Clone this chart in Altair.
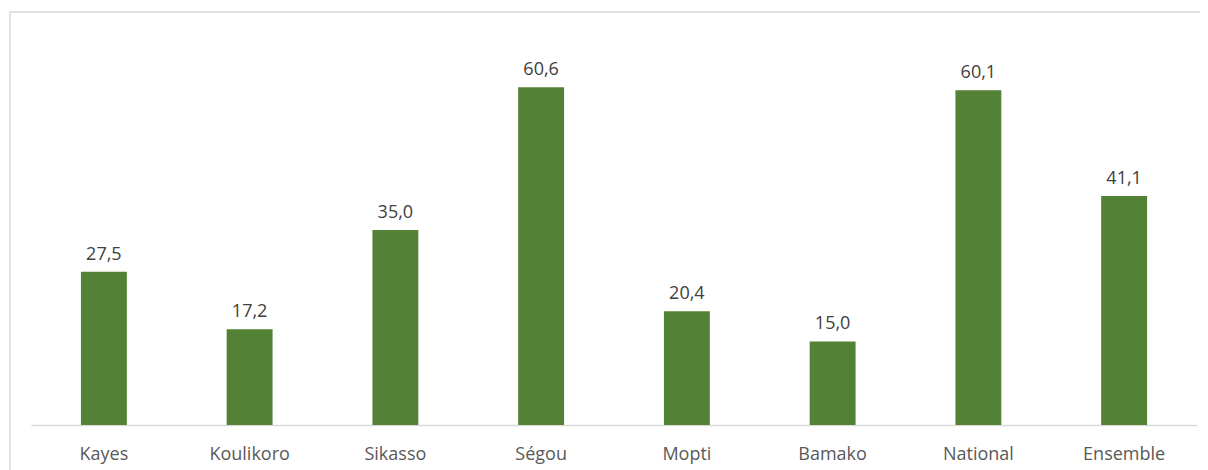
import altair as alt
import pandas as pd

categories = ["Kayes", "Koulikoro", "Sikasso", "Ségou", "Mopti", "Bamako", "National", "Ensemble"]
values = [27.5, 17.2, 35.0, 60.6, 20.4, 15.0, 60.1, 41.1]

df = pd.DataFrame({"cat": categories, "v": values})

FONT = "Open Sans"
x = alt.X("cat:N", sort=categories, title=None,
          scale=alt.Scale(paddingInner=0.685, paddingOuter=0.3425),
          axis=alt.Axis(labelAngle=0, ticks=False, domainColor="#d9d9d9", domainWidth=1.5,
                        labelColor="#595959", labelFont=FONT, labelFontSize=18,
                        labelBaseline="alphabetic", labelPadding=34, grid=False))
y = alt.Y("v:Q", scale=alt.Scale(domain=[0, 70], nice=False), axis=None)

base = alt.Chart(df)
bars = base.mark_bar(color="#538135").encode(x=x, y=y)
labels = base.transform_calculate(
    lab="replace(format(datum.v, '.1f'), '.', ',')"
).mark_text(baseline="alphabetic", dy=-12, font=FONT, fontSize=18, color="#404040").encode(
    x=x, y=y, text="lab:N")

border = alt.Chart(pd.DataFrame({"a": [0]})).mark_rect(
    fill=None, stroke="#d9d9d9", strokeWidth=1.5
).encode(x=alt.value(-21), x2=alt.value(1250), y=alt.value(-23), y2=alt.value(500))

chart = alt.layer(border, bars, labels).properties(
    width=1166, height=390,
    padding={"left": 23, "top": 27, "right": 3, "bottom": 45},
    autosize=alt.AutoSizeParams(type="none"),
).configure_view(stroke=None)

chart.save("out.html", embed_options={"renderer": "svg", "actions": False})
